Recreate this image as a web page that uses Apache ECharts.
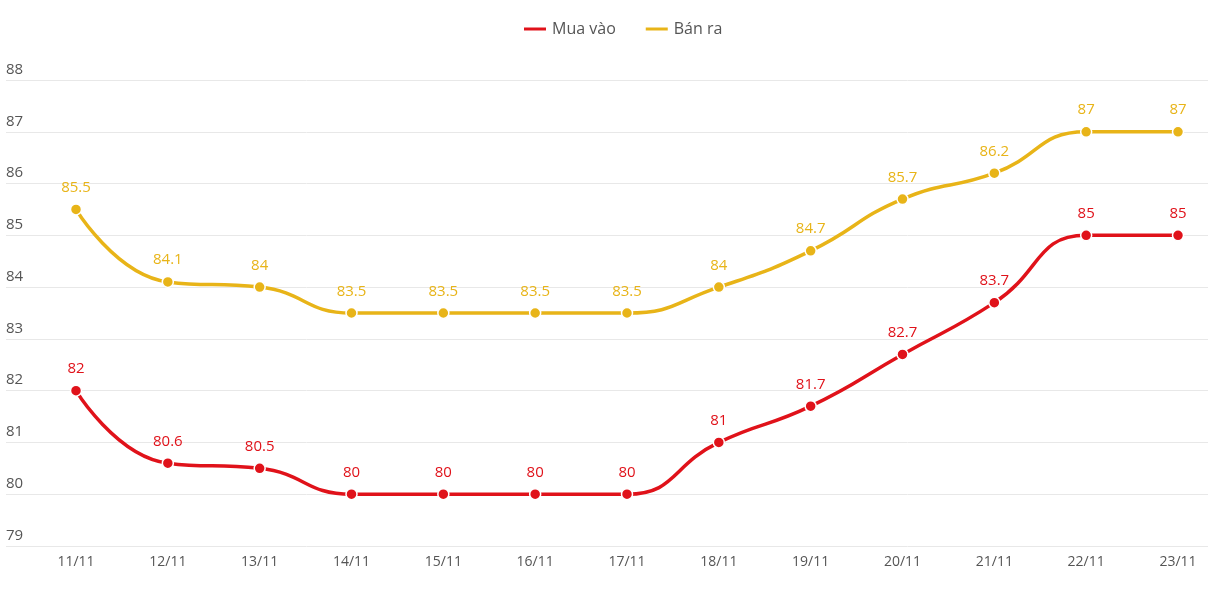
<!DOCTYPE html>
<html>
<head>
<meta charset="utf-8">
<script src="https://cdn.jsdelivr.net/npm/echarts@6/dist/echarts.min.js"></script>
<style>html,body{margin:0;padding:0;background:#fff}#c{width:1208px;height:598px}</style>
</head>
<body>
<div id="c"></div>
<script>
var categories = ['11/11','12/11','13/11','14/11','15/11','16/11','17/11','18/11','19/11','20/11','21/11','22/11','23/11'];
var muaVao = [82, 80.6, 80.5, 80, 80, 80, 80, 81, 81.7, 82.7, 83.7, 85, 85];
var banRa = [85.5, 84.1, 84, 83.5, 83.5, 83.5, 83.5, 84, 84.7, 85.7, 86.2, 87, 87];
var seriesNames = ['Mua vào', 'Bán ra'];
var yMin = 79, yMax = 88;

var chart = echarts.init(document.getElementById('c'), null, {renderer: 'canvas'});
var font = 'Open Sans, sans-serif';
function mk(name, data, color) {
  return {
    name: name, type: 'line', data: data, smooth: true,
    xAxisIndex: 0, yAxisIndex: 0,
    symbol: 'circle', symbolSize: 11,
    lineStyle: {width: 3.5, color: color},
    itemStyle: {color: color, borderColor: '#fff', borderWidth: 1.5},
    label: {show: true, position: 'top', distance: 8, color: color, fontSize: 15, fontFamily: font},
    emphasis: {disabled: true}
  };
}
chart.setOption({
  animation: false,
  textStyle: {fontFamily: font},
  legend: {
    top: 16, left: 517, itemGap: 28, itemWidth: 24, itemHeight: 5, icon: 'rect',
    textStyle: {color: '#555', fontSize: 16, fontFamily: font},
    data: seriesNames
  },
  grid: [
    {left: 76, right: 30, top: 80, bottom: 52, containLabel: false},
    {left: 6, right: 0, top: 80, bottom: 52, containLabel: false}
  ],
  xAxis: [
    {type: 'category', gridIndex: 0, data: categories, boundaryGap: false,
     axisLine: {show: false}, axisTick: {show: false},
     axisLabel: {color: '#555', fontSize: 14, margin: 9, fontFamily: font}},
    {type: 'value', gridIndex: 1, show: false, min: 0, max: 1}
  ],
  yAxis: [
    {type: 'value', gridIndex: 0, min: yMin, max: yMax, interval: 1, show: false},
    {type: 'value', gridIndex: 1, min: yMin, max: yMax, interval: 1,
     axisLine: {show: false}, axisTick: {show: false},
     splitLine: {show: true, lineStyle: {color: '#e8e8e8', width: 1}},
     axisLabel: {inside: true, margin: 0, verticalAlign: 'bottom', padding: [0, 0, 3, 0],
       color: '#555', fontSize: 15, fontFamily: font}}
  ],
  series: [
    mk(seriesNames[0], muaVao, '#e0121a'),
    mk(seriesNames[1], banRa, '#e8b418')
  ]
});
</script>
</body>
</html>
